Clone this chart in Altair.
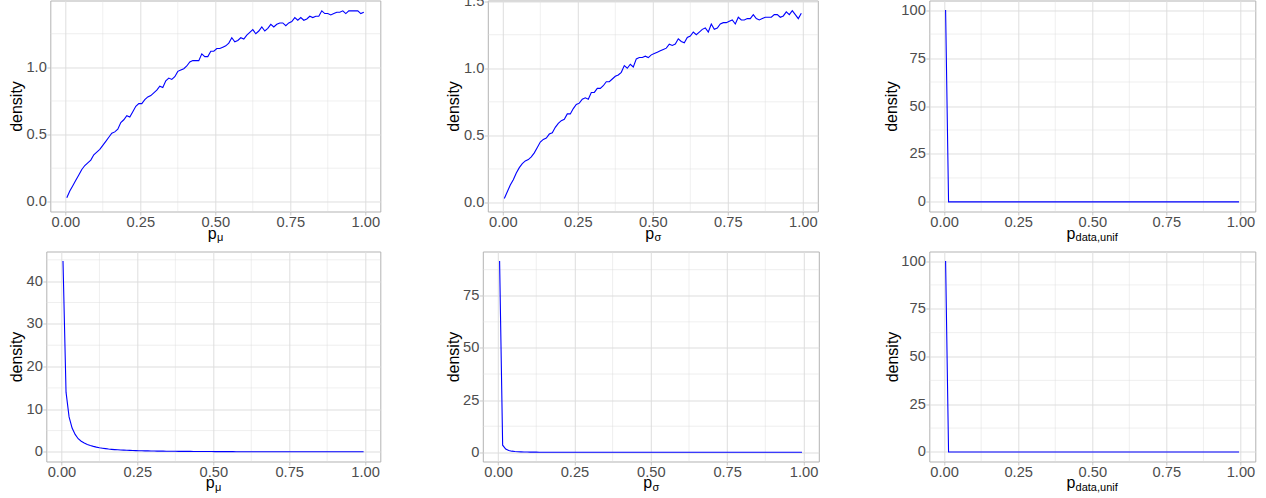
import altair as alt
import pandas as pd

# ---------------------------------------------------------------- data
# bin midpoints on the unit interval
P_GRID = [
    0.005, 0.015, 0.025, 0.035, 0.045, 0.055, 0.065, 0.075, 0.085, 0.095,
    0.105, 0.115, 0.125, 0.135, 0.145, 0.155, 0.165, 0.175, 0.185, 0.195,
    0.205, 0.215, 0.225, 0.235, 0.245, 0.255, 0.265, 0.275, 0.285, 0.295,
    0.305, 0.315, 0.325, 0.335, 0.345, 0.355, 0.365, 0.375, 0.385, 0.395,
    0.405, 0.415, 0.425, 0.435, 0.445, 0.455, 0.465, 0.475, 0.485, 0.495,
    0.505, 0.515, 0.525, 0.535, 0.545, 0.555, 0.565, 0.575, 0.585, 0.595,
    0.605, 0.615, 0.625, 0.635, 0.645, 0.655, 0.665, 0.675, 0.685, 0.695,
    0.705, 0.715, 0.725, 0.735, 0.745, 0.755, 0.765, 0.775, 0.785, 0.795,
    0.805, 0.815, 0.825, 0.835, 0.845, 0.855, 0.865, 0.875, 0.885, 0.895,
    0.905, 0.915, 0.925, 0.935, 0.945, 0.955, 0.965, 0.975, 0.985, 0.995,
]

DENS_MU_A = [
    0.03, 0.08, 0.12, 0.16, 0.20, 0.24, 0.27, 0.29, 0.31, 0.35,
    0.37, 0.39, 0.42, 0.45, 0.48, 0.51, 0.52, 0.54, 0.59, 0.61,
    0.64, 0.63, 0.67, 0.71, 0.73, 0.73, 0.76, 0.78, 0.79, 0.81,
    0.83, 0.86, 0.85, 0.90, 0.92, 0.91, 0.93, 0.97, 0.98, 0.99,
    1.01, 1.04, 1.05, 1.05, 1.05, 1.10, 1.08, 1.08, 1.12, 1.12,
    1.14, 1.14, 1.15, 1.16, 1.18, 1.22, 1.19, 1.20, 1.22, 1.21,
    1.24, 1.26, 1.28, 1.25, 1.27, 1.30, 1.27, 1.29, 1.32, 1.30,
    1.32, 1.33, 1.33, 1.31, 1.33, 1.34, 1.37, 1.35, 1.37, 1.35,
    1.36, 1.38, 1.37, 1.38, 1.38, 1.42, 1.40, 1.40, 1.39, 1.40,
    1.41, 1.41, 1.42, 1.40, 1.42, 1.42, 1.42, 1.42, 1.40, 1.41,
]

DENS_SIGMA_A = [
    0.03, 0.08, 0.13, 0.17, 0.22, 0.26, 0.29, 0.31, 0.32, 0.34,
    0.37, 0.41, 0.45, 0.47, 0.48, 0.51, 0.52, 0.56, 0.59, 0.61,
    0.62, 0.66, 0.66, 0.70, 0.73, 0.74, 0.77, 0.78, 0.77, 0.82,
    0.82, 0.85, 0.85, 0.87, 0.90, 0.90, 0.92, 0.94, 0.95, 0.97,
    1.02, 1.00, 1.03, 1.01, 1.07, 1.08, 1.08, 1.09, 1.08, 1.10,
    1.11, 1.12, 1.13, 1.14, 1.15, 1.18, 1.17, 1.18, 1.22, 1.20,
    1.19, 1.23, 1.24, 1.27, 1.25, 1.27, 1.29, 1.30, 1.27, 1.33,
    1.29, 1.30, 1.33, 1.34, 1.34, 1.35, 1.36, 1.33, 1.38, 1.36,
    1.36, 1.37, 1.37, 1.40, 1.37, 1.36, 1.37, 1.38, 1.38, 1.38,
    1.40, 1.40, 1.38, 1.39, 1.42, 1.40, 1.43, 1.40, 1.37, 1.41,
]

DENS_MU_B = [
    44.7, 14.0, 8.2, 5.6, 4.1, 3.1, 2.5, 2.1, 1.75, 1.5,
    1.3, 1.12, 0.98, 0.87, 0.77, 0.68, 0.61, 0.55, 0.50, 0.46,
    0.42, 0.39, 0.36, 0.33, 0.31, 0.29, 0.27, 0.25, 0.24, 0.22,
    0.21, 0.20, 0.19, 0.18, 0.17, 0.16, 0.15, 0.15, 0.14, 0.13,
    0.13, 0.12, 0.12, 0.11, 0.11, 0.10, 0.10, 0.09, 0.09, 0.09,
    0.08, 0.08, 0.08, 0.07, 0.07, 0.07, 0.07, 0.06, 0.06, 0.06,
    0.06, 0.06, 0.05, 0.05, 0.05, 0.05, 0.05, 0.05, 0.05, 0.04,
    0.04, 0.04, 0.04, 0.04, 0.04, 0.04, 0.04, 0.04, 0.04, 0.03,
    0.03, 0.03, 0.03, 0.03, 0.03, 0.03, 0.03, 0.03, 0.03, 0.03,
    0.03, 0.03, 0.03, 0.03, 0.03, 0.03, 0.03, 0.03, 0.03, 0.03,
]

DENS_SIGMA_B = [
    91.6, 3.4, 1.6, 0.9, 0.55, 0.36, 0.26, 0.19, 0.15, 0.12,
    0.10, 0.08, 0.07, 0.06, 0.05, 0.05, 0.04, 0.04, 0.03, 0.03,
    0.03, 0.03, 0.02, 0.02, 0.02, 0.02, 0.02, 0.02, 0.02, 0.02,
    0.02, 0.02, 0.02, 0.01, 0.01, 0.01, 0.01, 0.01, 0.01, 0.01,
    0.01, 0.01, 0.01, 0.01, 0.01, 0.01, 0.01, 0.01, 0.01, 0.01,
    0.01, 0.01, 0.01, 0.01, 0.01, 0.01, 0.01, 0.01, 0.01, 0.01,
    0.01, 0.01, 0.01, 0.01, 0.01, 0.01, 0.01, 0.01, 0.01, 0.01,
    0.01, 0.01, 0.01, 0.01, 0.01, 0.01, 0.01, 0.01, 0.01, 0.01,
    0.01, 0.01, 0.01, 0.01, 0.01, 0.01, 0.01, 0.01, 0.01, 0.01,
    0.01, 0.01, 0.01, 0.01, 0.01, 0.01, 0.01, 0.01, 0.01, 0.01,
]

# all mass in the first bin
UNIF_X = [0.005, 0.015, 0.995]
UNIF_Y = [100.0, 0.0, 0.0]

X_TICKS = [0.0, 0.25, 0.5, 0.75, 1.0]
X_MINOR = [0.125, 0.375, 0.625, 0.875]

# ---------------------------------------------------------------- style
FONT = "Liberation Sans"
BLUE = "#0000FF"
GRID = "#DEDEDE"
BORDER = "#B3B3B3"
X_DOMAIN = [-0.05, 1.05]

ONE = alt.Data(values=[{}])


def panel(xs, ys, ydom, yticks, yminor, yfmt, w, h, ext, sub, split, guard=False):
    xsc = alt.Scale(domain=X_DOMAIN, nice=False, zero=False)
    ysc = alt.Scale(domain=ydom, nice=False, zero=False)
    xaxis = alt.Axis(values=X_TICKS, format=".2f", title=None, labelFlush=False,
                     labelPadding=-0.3)
    yaxis = alt.Axis(values=yticks, format=yfmt, title="density",
                     minExtent=ext, maxExtent=ext, titlePadding=1, labelPadding=0.5)

    curve = alt.Chart(pd.DataFrame({"p": xs, "density": ys})).mark_line(
        color=BLUE, strokeWidth=1.1
    ).encode(
        x=alt.X("p:Q", scale=xsc, axis=xaxis),
        y=alt.Y("density:Q", scale=ysc, axis=yaxis),
    )
    # minor grid lines share the panel's scales and axes
    vminor = alt.Chart(pd.DataFrame({"p": X_MINOR})).mark_rule(
        color=GRID, strokeWidth=0.5
    ).encode(x=alt.X("p:Q", scale=xsc, axis=xaxis))
    hminor = alt.Chart(pd.DataFrame({"density": yminor})).mark_rule(
        color=GRID, strokeWidth=0.5
    ).encode(y=alt.Y("density:Q", scale=ysc, axis=yaxis))

    # x title: "p" with a subscript
    p_main = alt.Chart(ONE).mark_text(
        text="p", font=FONT, fontSize=16, align="right", baseline="alphabetic", color="black"
    ).encode(x=alt.value(w / 2 + split), y=alt.value(h + 27))
    p_sub = alt.Chart(ONE).mark_text(
        text=sub, font=FONT, fontSize=11, align="left", baseline="alphabetic", color="black"
    ).encode(x=alt.value(w / 2 + split + 0.3), y=alt.value(h + 29.8))

    layers = [vminor, hminor, curve, p_main, p_sub]
    if guard:
        # empty headroom above the panel
        layers.append(
            alt.Chart(ONE).mark_rule(strokeOpacity=0).encode(
                x=alt.value(0), y=alt.value(-20), y2=alt.value(0)
            )
        )
    return alt.layer(*layers).properties(width=w, height=h)


def spacer():
    # zero-content cell that anchors the start of each row
    return alt.Chart(ONE).mark_rule(strokeOpacity=0).encode(
        x=alt.value(0), y=alt.value(0), y2=alt.value(1)
    ).properties(width=1, height=1, view=alt.ViewBackground(strokeOpacity=0))


top = alt.hconcat(
    spacer(),
    panel(P_GRID, DENS_MU_A, [-0.072, 1.497], [0.0, 0.5, 1.0], [0.25, 0.75, 1.25],
          ".1f", 330, 211, 24.7, "μ", 1.3, guard=True),
    panel(P_GRID, DENS_SIGMA_A, [-0.067, 1.505], [0.0, 0.5, 1.0, 1.5], [0.25, 0.75, 1.25],
          ".1f", 330, 211, 25.2, "σ", 1.3, guard=True),
    panel(UNIF_X, UNIF_Y, [-5, 105], [0, 25, 50, 75, 100], [12.5, 37.5, 62.5, 87.5],
          "d", 326, 211, 28.8, "data,unif", -17, guard=True),
    spacing=63.5,
)

bottom = alt.hconcat(
    spacer(),
    panel(P_GRID, DENS_MU_B, [-2.24, 46.95], [0, 10, 20, 30, 40], [5, 15, 25, 35, 45],
          "d", 334, 210, 20.7, "μ", 1.3),
    panel(P_GRID, DENS_SIGMA_B, [-4.4, 96.2], [0, 25, 50, 75], [12.5, 37.5, 62.5, 87.5],
          "d", 336, 210, 20.2, "σ", 1.3),
    panel(UNIF_X, UNIF_Y, [-5, 105], [0, 25, 50, 75, 100], [12.5, 37.5, 62.5, 87.5],
          "d", 326, 210, 27.8, "data,unif", -17),
    spacing=63.5,
)

chart = alt.vconcat(top, bottom, spacing=6).properties(
    padding={"left": -57.2, "top": -20.5, "right": 5, "bottom": 5},
    background="white",
).configure_view(
    stroke=BORDER, strokeWidth=1
).configure_axis(
    labelFont=FONT, labelFontSize=14.67, labelColor="#4D4D4D",
    titleFont=FONT, titleFontSize=16, titleColor="black", titleFontWeight="normal",
    tickColor=BORDER, tickSize=3.5, tickWidth=0.7,
    gridColor=GRID, gridWidth=1, domain=False,
)

chart.save("out.html", embed_options={"renderer": "svg", "actions": False})
